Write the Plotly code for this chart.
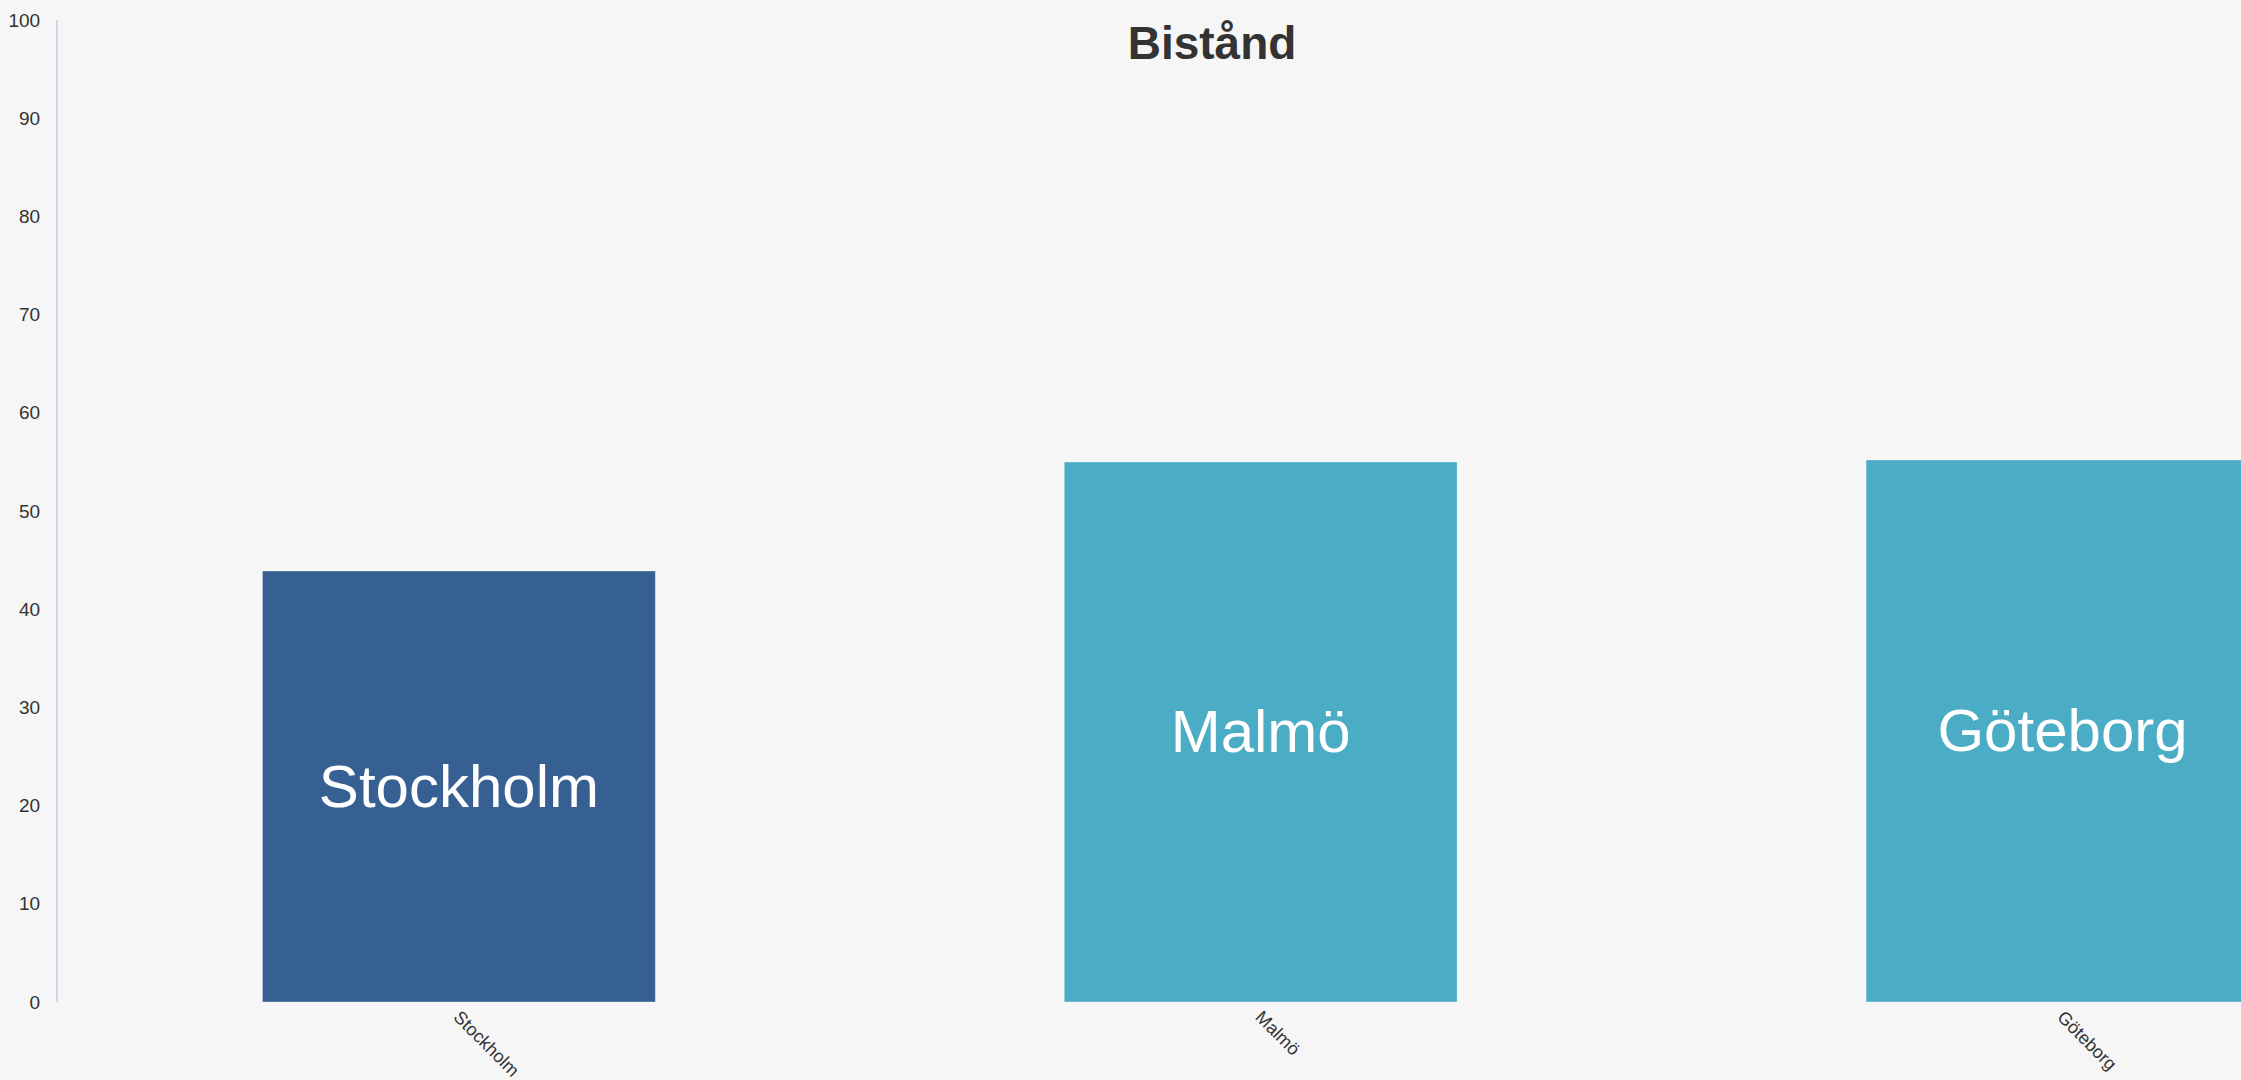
import plotly.graph_objects as go

categories = ["Stockholm", "Malmö", "Göteborg"]
values = [43.9, 55.0, 55.2]
bar_colors = ["#366092", "#4BACC6", "#4BACC6"]
y_ticks = [0, 10, 20, 30, 40, 50, 60, 70, 80, 90, 100]
title_text = "Bistånd"

W, H = 2241, 1080

fig = go.Figure()
fig.add_trace(go.Bar(
    x=categories,
    y=values,
    text=categories,
    textposition="inside",
    insidetextanchor="middle",
    textangle=0,
    textfont=dict(family="Liberation Sans, Arial, sans-serif", size=60, color="#ffffff"),
    marker=dict(color=bar_colors, line=dict(color="rgba(255,255,255,0.35)", width=1)),
    width=0.49,
    hoverinfo="x+y",
))

fig.update_layout(
    width=W, height=H,
    paper_bgcolor="#f6f6f6",
    plot_bgcolor="#f6f6f6",
    margin=dict(l=58, r=0, t=20, b=78),
    showlegend=False,
    title=dict(
        text="<b>" + title_text + "</b>",
        x=1212 / W, xref="container", xanchor="center",
        y=1 - 43 / H, yref="container", yanchor="middle",
        font=dict(family="Liberation Sans, Arial, sans-serif", size=46, color="#333333"),
    ),
    xaxis=dict(
        range=[-0.5, 2.2226],
        showgrid=False,
        showline=False,
        zeroline=False,
        tickangle=45,
        ticks="",
        tickfont=dict(family="Liberation Sans, Arial, sans-serif", size=18, color="#333333"),
    ),
    yaxis=dict(
        range=[0, 100],
        tickvals=y_ticks,
        ticktext=[str(v) for v in y_ticks],
        showgrid=False,
        zeroline=False,
        showline=True,
        linecolor="#c9d9ea",
        linewidth=2,
        ticks="outside",
        ticklen=0,
        ticklabelstandoff=12,
        tickfont=dict(family="Liberation Sans, Arial, sans-serif", size=19, color="#333333"),
    ),
)

fig.write_html(
    "out.html",
    config={"displayModeBar": False},
    post_script="document.body.style.margin='0';document.body.style.padding='0';"
                "document.body.style.overflow='hidden';document.body.style.background='#f6f6f6';",
)
